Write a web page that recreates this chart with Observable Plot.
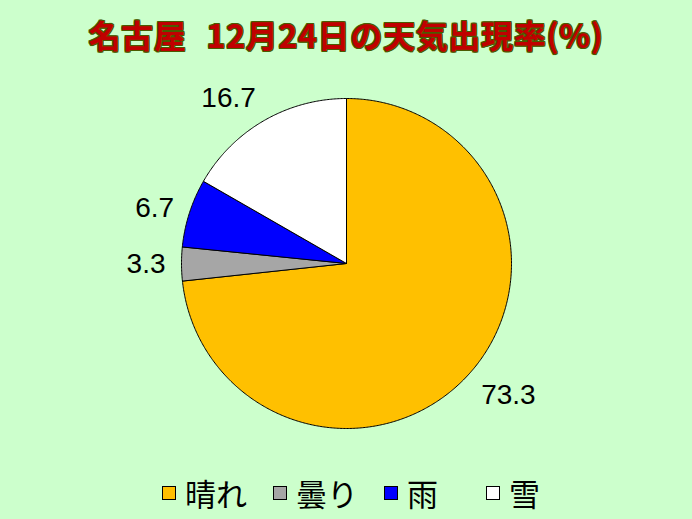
<!DOCTYPE html>
<html><head><meta charset="utf-8">
<script src="https://cdn.jsdelivr.net/npm/d3@7"></script>
<script src="https://cdn.jsdelivr.net/npm/@observablehq/plot@0.6"></script>
<style>
html,body{margin:0;padding:0;background:#CCFFCC;width:692px;height:519px;overflow:hidden;}
#title{height:60px;line-height:60px;padding-top:4px;box-sizing:border-box;text-align:center;font-family:"Noto Sans CJK JP",sans-serif;font-weight:bold;font-size:32px;color:#C00000;letter-spacing:0.7px;
text-shadow:1px 0 0 #4b5a00,-1px 0 0 #4b5a00,0 1px 0 #4b5a00,0 -1px 0 #4b5a00,1px 1px 0 #4b5a00,-1px -1px 0 #4b5a00,1px -1px 0 #4b5a00,-1px 1px 0 #4b5a00;white-space:pre;}
#title .sp{letter-spacing:-12px;}
#chart svg{display:block;}
#legend{height:59px;display:flex;justify-content:center;align-items:center;padding-left:36px;padding-top:6px;box-sizing:border-box;font-family:"Noto Sans CJK JP",sans-serif;font-size:31px;color:#000;}
.item{display:flex;align-items:center;margin-right:26px;}
.sw{width:12px;height:12px;border:1px solid #000;margin-right:9px;}
</style></head>
<body>
<div id="title">名古屋<span class="sp">　</span>12月24日の天気出現率(%)</div>
<div id="chart"></div>
<div id="legend"></div>
<script>
const names = ["晴れ", "曇り", "雨", "雪"];
const values = [73.3, 3.3, 6.7, 16.7];
const colors = ["#FFC000", "#A6A6A6", "#0000FF", "#FFFFFF"];
const labels = ["73.3", "3.3", "6.7", "16.7"];

const W = 692, H = 400, R = 165, CX = 346, CY = 203;
const total = d3.sum(values);
let acc = 0;
const slices = names.map((n, i) => {
  const a0 = acc / total * 2 * Math.PI; acc += values[i];
  const a1 = acc / total * 2 * Math.PI;
  return {name: n, label: labels[i], a0, a1};
});
const pts = [];
for (const s of slices) {
  pts.push({name: s.name, x: 0, y: 0});
  const n = Math.max(2, Math.ceil((s.a1 - s.a0) / (Math.PI / 360)));
  for (let k = 0; k <= n; k++) {
    const a = s.a0 + (s.a1 - s.a0) * k / n;
    pts.push({name: s.name, x: Math.sin(a), y: Math.cos(a)});
  }
  pts.push({name: s.name, x: 0, y: 0});
}
const rl = 1 + 16 / R;
const lab = slices.map(s => {
  const m = (s.a0 + s.a1) / 2, sx = Math.sin(m), cy = Math.cos(m);
  return {text: s.label, x: rl * sx, y: rl * cy,
    ta: sx < 0 ? "end" : "start",
    la: Math.abs(cy) < 0.5 ? "middle" : (cy > 0 ? "bottom" : "top")};
});
const textMarks = [];
for (const ta of ["start", "end"]) for (const la of ["top", "middle", "bottom"]) {
  const d = lab.filter(e => e.ta === ta && e.la === la);
  if (d.length) textMarks.push(Plot.text(d, {x: "x", y: "y", text: "text", textAnchor: ta, lineAnchor: la,
    fontSize: 28, fontFamily: "Liberation Sans, Arial, sans-serif", fill: "black"}));
}
const chart = Plot.plot({
  width: W, height: H, margin: 0,
  x: {domain: [-CX / R, (W - CX) / R], axis: null},
  y: {domain: [-(H - CY) / R, CY / R], axis: null},
  color: {domain: names, range: colors},
  style: {background: "transparent", overflow: "visible"},
  marks: [
    Plot.line(pts, {x: "x", y: "y", z: "name", fill: "name", stroke: "black", strokeWidth: 1, curve: "linear", strokeLinejoin: "round"}),
    ...textMarks
  ]
});
document.getElementById("chart").append(chart);
const leg = document.getElementById("legend");
names.forEach((n, i) => {
  const it = document.createElement("div"); it.className = "item";
  if (i === 2) it.style.marginRight = "48px";
  const sw = document.createElement("div"); sw.className = "sw"; sw.style.background = colors[i];
  const t = document.createElement("span"); t.textContent = n;
  it.append(sw, t); leg.append(it);
});
</script>
</body></html>
